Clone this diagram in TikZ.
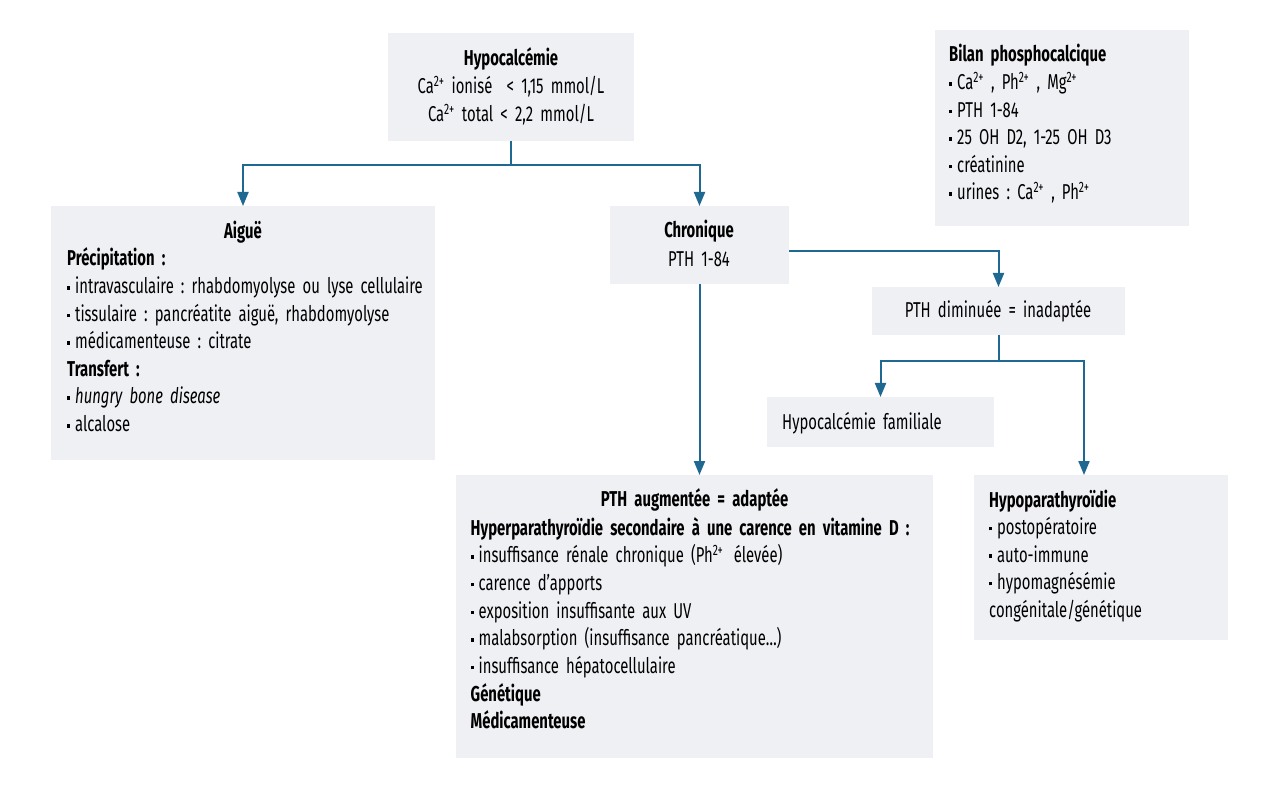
\documentclass[tikz,border=0pt]{standalone}
\usepackage{fontspec}
\setmainfont{Fira Sans}[FakeStretch=0.69, WordSpace=0.8]
\usetikzlibrary{arrows.meta}
\definecolor{boxfill}{RGB}{239,240,244}
\definecolor{linec}{RGB}{31,104,145}
\newcommand\bul{\rule[0.19em]{0.15em}{0.16em}\hspace{0.22em}}
\newcommand\spx[1]{\textsuperscript{#1}}
\frenchspacing
\begin{document}
\begin{tikzpicture}[x=1pt,y=-1pt,
  box/.style={fill=boxfill, draw=none, anchor=north west, inner sep=0, outer sep=0},
  tl/.style={inner sep=0, text width=600pt, align=left, anchor=base west, font=\fontsize{21.5}{#1}\selectfont},
  tc/.style={inner sep=0, text width=420pt, align=center, anchor=base, font=\fontsize{21.5}{#1}\selectfont},
  arr/.style={draw=linec, line width=2pt, -{Triangle[length=14pt,width=11pt]}},
  ln/.style={draw=linec, line width=2pt}]
\fill[white] (0,0) rectangle (1280,791);
\useasboundingbox (0,0) rectangle (1280,791);
% boxes
\node[box, minimum width=246pt, minimum height=108pt] (hypo) at (388,33) {};
\node[box, minimum width=254pt, minimum height=196pt] (bilan) at (935,30) {};
\node[box, minimum width=384pt, minimum height=254pt] (aigue) at (51,206) {};
\node[box, minimum width=179pt, minimum height=78pt] (chron) at (610,206) {};
\node[box, minimum width=253pt, minimum height=48pt] (dimin) at (872,287) {};
\node[box, minimum width=227pt, minimum height=50pt] (famil) at (767,397) {};
\node[box, minimum width=477pt, minimum height=283pt] (augm) at (456,475) {};
\node[box, minimum width=254pt, minimum height=165pt] (hypop) at (974,475) {};
% connectors
\coordinate (j1) at ([yshift=-24pt]hypo.south);
\draw[ln] (hypo.south) -- (j1);
\draw[arr] (j1) -| (aigue.north);
\draw[arr] (j1) -| (chron.north);
\draw[arr] ([yshift=-6pt]chron.east) -| (dimin.north);
\draw[arr] (chron.south) -- (chron.south |- augm.north);
\coordinate (j2) at ([yshift=-26pt]dimin.south);
\draw[ln] (dimin.south) -- (j2);
\draw[arr] (j2) -| (famil.north);
\draw[arr] (j2) -| ([xshift=-17pt]hypop.north);
% texts
\node[tc=28pt] (thypo) at (511,66) {\textbf{Hypocalcémie}\\Ca\spx{2+} ionisé ~< 1,15 mmol/L\\Ca\spx{2+} total < 2,2 mmol/L};
\node[tl=27.6pt] (tbilan) at (949,62) {\textbf{Bilan phosphocalcique}\\\bul Ca\spx{2+} , Ph\spx{2+} , Mg\spx{2+}\\\bul PTH 1-84\\\bul 25 OH D2, 1-25 OH D3\\\bul créatinine\\\bul urines : Ca\spx{2+} , Ph\spx{2+}};
\node[tc=27.6pt] (taiguet) at (243,239) {\textbf{Aiguë}};
\node[tl=27.6pt] (taigue) at (67,266) {\textbf{Précipitation :}\\\bul intravasculaire : rhabdomyolyse ou lyse cellulaire\\\bul tissulaire : pancréatite aiguë, rhabdomyolyse\\\bul médicamenteuse : citrate\\\textbf{Transfert :}\\\bul \textit{hungry bone disease}\\\bul alcalose};
\node[tc=28.5pt] (tchron) at (699,238) {\textbf{Chronique}\\PTH 1-84};
\node[tc=28pt] (tdimin) at (998,318) {PTH diminuée = inadaptée};
\node[tl=28pt] (tfamil) at (782,430) {Hypocalcémie familiale};
\node[tc=28pt] (taugmt) at (694.5,506.7) {\textbf{PTH augmentée = adaptée}};
\node[tl=27.7pt] (taugm) at (470.5,535) {\textbf{Hyperparathyroïdie secondaire à une carence en vitamine D :}\\\bul insuffisance rénale chronique (Ph\spx{2+}\hspace{0.15em} élevée)\\\bul carence d’apports\\\bul exposition insuffisante aux UV\\\bul malabsorption (insuffisance pancréatique…)\\\bul insuffisance hépatocellulaire\\\textbf{Génétique}\\\textbf{Médicamenteuse}};
\node[tl=27.5pt] (thypop) at (989,507) {\textbf{Hypoparathyroïdie}\\\bul postopératoire\\\bul auto-immune\\\bul hypomagnésémie\\congénitale/génétique};
\end{tikzpicture}
\end{document}
